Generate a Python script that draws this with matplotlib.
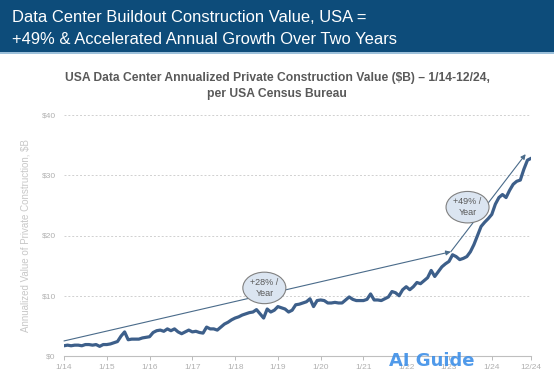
import matplotlib.pyplot as plt
from matplotlib.patches import Rectangle

# monthly values, $B annualized, 1/14 .. 12/24
v2014 = [1.7, 1.8, 1.7, 1.8, 1.8, 1.7, 1.9, 1.9, 1.8, 1.9, 1.6, 1.9]
v2015 = [1.9, 2.0, 2.2, 2.4, 3.3, 4.0, 2.7, 2.8, 2.8, 2.8, 3.0, 3.1]
v2016 = [3.2, 3.9, 4.2, 4.3, 4.1, 4.5, 4.2, 4.5, 4.0, 3.7, 4.0, 4.3]
v2017 = [4.0, 4.1, 3.9, 3.8, 4.8, 4.5, 4.5, 4.3, 4.8, 5.3, 5.6, 6.0]
v2018 = [6.3, 6.5, 6.8, 7.0, 7.2, 7.3, 7.7, 7.0, 6.3, 7.8, 7.3, 7.6]
v2019 = [8.2, 8.0, 7.8, 7.3, 7.6, 8.5, 8.6, 8.8, 9.0, 9.5, 8.2, 9.2]
v2020 = [9.3, 9.2, 8.8, 8.8, 8.9, 8.8, 8.8, 9.3, 9.8, 9.4, 9.2, 9.2]
v2021 = [9.2, 9.4, 10.3, 9.3, 9.3, 9.2, 9.5, 9.8, 10.7, 10.5, 10.0, 11.0]
v2022 = [11.5, 11.0, 11.5, 12.2, 12.0, 12.5, 13.0, 14.2, 13.2, 14.0, 14.8, 15.3]
v2023 = [15.7, 16.8, 16.5, 16.0, 16.2, 16.5, 17.3, 18.5, 20.0, 21.5, 22.2, 22.8]
v2024 = [23.5, 25.2, 26.3, 26.8, 26.3, 27.5, 28.5, 29.0, 29.2, 31.0, 32.5, 32.8]

values = v2014 + v2015 + v2016 + v2017 + v2018 + v2019 + v2020 + v2021 + v2022 + v2023 + v2024
months = list(range(len(values)))

tick_pos = [0, 12, 24, 36, 48, 60, 72, 84, 96, 108, 120, 131]
tick_labels = ["1/14", "1/15", "1/16", "1/17", "1/18", "1/19", "1/20",
               "1/21", "1/22", "1/23", "1/24", "12/24"]
y_ticks = [0, 10, 20, 30, 40]
y_labels = ["$0", "$10", "$20", "$30", "$40"]

# trend arrows (month index, value)
trend1 = [(0, 2.5), (108.5, 17.3)]
trend2 = [(108.5, 17.3), (129.5, 33.5)]

fig = plt.figure(figsize=(5.54, 3.80), dpi=100)
fig.patch.set_facecolor("white")

# header banner
fig.patches.append(Rectangle((0, 1 - 52 / 380), 1, 52 / 380, transform=fig.transFigure,
                             facecolor="#0d4c7a", edgecolor="none", zorder=0))
fig.patches.append(Rectangle((0, 1 - 54 / 380), 1, 2 / 380, transform=fig.transFigure,
                             facecolor="#9cc0da", edgecolor="none", zorder=0))
fig.text(12 / 554, 1 - 18 / 380, "Data Center Buildout Construction Value, USA =",
         color="white", fontsize=11.9, family="Liberation Sans", va="center", ha="left")
fig.text(12 / 554, 1 - 39 / 380, "+49% & Accelerated Annual Growth Over Two Years",
         color="white", fontsize=11.9, family="Liberation Sans", va="center", ha="left")

fig.text(0.5, 1 - 78 / 380, "USA Data Center Annualized Private Construction Value ($B) \u2013 1/14-12/24,",
         color="#595959", fontsize=8.7, fontweight="bold", family="Liberation Sans",
         ha="center", va="center")
fig.text(0.5, 1 - 94 / 380, "per USA Census Bureau",
         color="#595959", fontsize=8.7, fontweight="bold", family="Liberation Sans",
         ha="center", va="center")

ax = fig.add_axes([64 / 554, 24 / 380, 467 / 554, 241 / 380])
ax.plot(months, values, color="#3d5f8a", linewidth=2.3, zorder=3)

ax.set_xlim(0, 131)
ax.set_ylim(0, 40)
ax.set_xticks(tick_pos)
ax.set_xticklabels(tick_labels)
ax.set_yticks(y_ticks)
ax.set_yticklabels(y_labels)
ax.tick_params(axis="x", colors="#b0b0b0", labelsize=6, length=3, width=0.6, pad=3)
ax.tick_params(axis="y", colors="#b0b0b0", labelsize=6, length=0, pad=6)
for lab in ax.get_xticklabels() + ax.get_yticklabels():
    lab.set_family("Liberation Sans")

for s in ["top", "right", "left"]:
    ax.spines[s].set_visible(False)
ax.spines["bottom"].set_color("#bfbfbf")
ax.spines["bottom"].set_linewidth(0.8)
ax.grid(axis="y", linestyle=(0, (2, 2)), color="#d0d0d0", linewidth=0.7)
ax.set_axisbelow(True)

ax.set_ylabel("Annualized Value of Private Construction, $B", color="#c8c8c8",
              fontsize=7, family="Liberation Sans", labelpad=8)

for seg in [trend1, trend2]:
    ax.annotate("", xy=seg[1], xytext=seg[0],
                arrowprops=dict(arrowstyle="-|>", color="#4a6b8a", lw=0.8,
                                mutation_scale=7, shrinkA=0, shrinkB=0), zorder=4)

ell = dict(boxstyle="ellipse,pad=0.12", facecolor="#dbe5f1", edgecolor="#808080", linewidth=0.8)
ax.text(56.2, 11.3, "+28% /\nYear", ha="center", va="center", fontsize=6.5,
        color="#595959", family="Liberation Sans", bbox=ell, zorder=5, linespacing=1.3)
ax.text(113.2, 24.7, "+49% /\nYear", ha="center", va="center", fontsize=6.5,
        color="#595959", family="Liberation Sans", bbox=ell, zorder=5, linespacing=1.3)

# watermark
fig.text(432 / 554, 1 - 361 / 380, "AI Guide", color="#3d8fe8", fontsize=13,
         fontweight="bold", family="DejaVu Sans", ha="center", va="center", alpha=0.9)

fig.savefig("out.png", dpi=100)
